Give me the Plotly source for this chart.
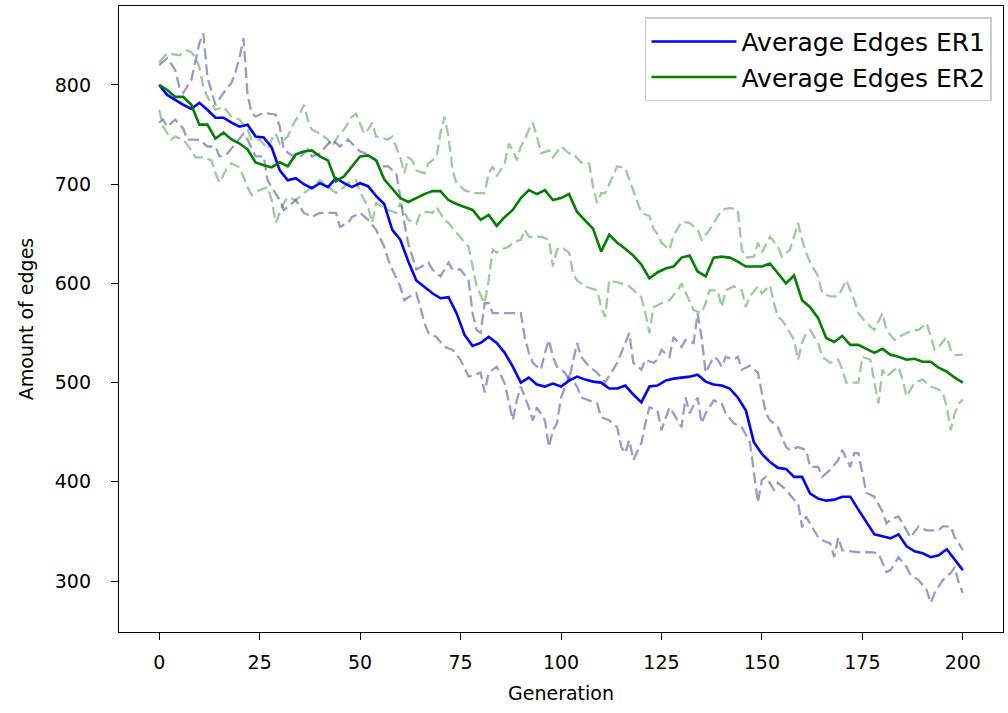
import plotly.graph_objects as go

# generaciones cada 2 para las medias
gen = list(range(0, 201, 2))

avg_er1 = [800, 790, 785, 780, 776, 782, 775, 767, 767, 762, 758, 760, 748, 747, 737, 714, 704, 706, 700, 696,
           701, 697, 706, 701, 697, 701, 698, 688, 680, 654, 644, 622, 603, 596, 590, 585, 586, 570, 548, 537,
           540, 546, 540, 530, 516, 500, 505, 498, 496, 499, 496, 502, 506, 503, 501, 500, 494, 494, 497, 488,
           480, 496, 497, 502, 504, 505, 506, 508, 501, 498, 497, 494, 485, 472, 440, 428, 420, 414, 413, 405,
           405, 388, 383, 381, 382, 385, 385, 372, 360, 347, 345, 343, 347, 335, 330, 328, 324, 326, 332, 322,
           311]

avg_er2 = [800, 795, 788, 788, 780, 760, 760, 746, 752, 745, 741, 735, 722, 719, 717, 722, 718, 730, 733, 734,
           728, 724, 703, 708, 718, 728, 729, 724, 705, 696, 686, 682, 686, 690, 693, 693, 684, 680, 677, 674,
           664, 669, 658, 667, 674, 686, 694, 690, 694, 684, 686, 690, 672, 663, 655, 632, 649, 641, 635, 628,
           619, 605, 611, 615, 617, 626, 628, 612, 607, 626, 627, 626, 622, 617, 617, 617, 620, 610, 600, 608,
           583, 576, 565, 545, 541, 547, 538, 538, 534, 530, 534, 528, 526, 523, 524, 521, 521, 515, 511, 505,
           500]

# lineas discontinuas (limites) con sus propias generaciones
er1_up_gen = [0, 2, 4, 5, 6, 8, 10, 11, 12, 14, 16, 18, 19, 20, 21, 22, 23, 24, 26, 29, 30, 31, 33, 35, 37, 38,
              40, 43, 45, 47, 50, 52, 54, 55, 57, 59, 60, 61, 62, 63, 64, 67, 68, 70, 72, 73, 75, 77, 78, 79,
              80, 81, 82, 83, 85, 87, 90, 91, 92, 93, 95, 96, 97, 98, 99, 101, 102, 104, 105, 107, 109, 111, 114,
              116, 117, 118, 120, 121, 123, 124, 125, 127, 128, 130, 131, 133, 134, 135, 136, 138, 139, 140, 141,
              143, 144, 145, 147, 149, 150, 151, 152, 154, 156, 157, 159, 161, 162, 164, 165, 167, 169, 170, 172,
              173, 174, 175, 176, 178, 180, 181, 182, 184, 186, 187, 189, 191, 194, 195, 197, 198, 199, 200]
er1_up = [820, 827, 815, 798, 792, 805, 842, 852, 808, 780, 792, 802, 813, 828, 847, 790, 772, 768, 772, 770,
          758, 735, 729, 727, 735, 728, 731, 745, 738, 745, 733, 730, 724, 718, 718, 711, 687, 661, 640, 627,
          614, 621, 614, 607, 621, 614, 614, 603, 570, 553, 550, 580, 580, 570, 570, 570, 570, 545, 530, 520,
          513, 530, 543, 526, 516, 510, 503, 540, 526, 516, 510, 500, 520, 540, 550, 520, 513, 523, 520, 523,
          533, 526, 546, 536, 543, 540, 570, 545, 510, 526, 523, 516, 526, 523, 526, 513, 517, 510, 490, 469,
          462, 455, 435, 432, 435, 432, 415, 415, 405, 412, 422, 432, 415, 429, 429, 409, 389, 385, 370, 358,
          362, 365, 351, 344, 355, 351, 351, 355, 355, 344, 338, 331]

er1_low_gen = [0, 1, 2, 4, 6, 7, 10, 12, 14, 15, 17, 19, 21, 22, 24, 26, 27, 28, 30, 31, 32, 34, 36, 38, 40, 44,
               45, 47, 48, 50, 52, 54, 56, 57, 58, 60, 61, 62, 64, 65, 66, 67, 69, 71, 73, 75, 77, 80, 81, 82,
               84, 86, 87, 88, 89, 90, 92, 93, 94, 96, 97, 98, 99, 100, 102, 104, 105, 107, 109, 110, 112, 114,
               115, 116, 117, 118, 120, 121, 122, 124, 125, 127, 128, 130, 131, 132, 134, 135, 136, 138, 140,
               141, 143, 145, 147, 148, 149, 150, 151, 153, 154, 156, 158, 159, 160, 161, 162, 164, 165, 167,
               168, 169, 170, 172, 174, 177, 179, 181, 182, 184, 186, 187, 189, 191, 192, 193, 195, 197, 198,
               199, 200]
er1_low = [762, 765, 758, 765, 756, 745, 745, 738, 738, 728, 731, 741, 751, 745, 728, 728, 704, 697, 684, 674,
           677, 684, 671, 667, 671, 671, 657, 661, 667, 671, 664, 654, 637, 624, 614, 597, 583, 586, 590, 576,
           560, 550, 546, 536, 533, 523, 506, 510, 490, 510, 516, 499, 482, 462, 482, 496, 475, 462, 475, 462,
           435, 452, 459, 485, 506, 496, 485, 482, 479, 465, 462, 455, 435, 429, 442, 422, 439, 459, 475, 472,
           452, 475, 469, 455, 485, 469, 485, 459, 469, 482, 479, 469, 459, 455, 440, 410, 379, 402, 405, 392,
           399, 392, 382, 379, 354, 365, 358, 344, 341, 338, 324, 344, 331, 330, 329, 329, 328, 309, 311, 324,
           314, 306, 301, 291, 278, 288, 301, 308, 314, 298, 288]

er2_up_gen = [0, 2, 5, 7, 8, 9, 10, 11, 12, 14, 16, 18, 20, 22, 23, 25, 27, 28, 29, 30, 32, 33, 35, 36, 37, 38,
              40, 42, 43, 45, 46, 48, 49, 51, 52, 53, 54, 57, 58, 60, 61, 62, 63, 64, 66, 67, 69, 70, 71, 72,
              73, 74, 76, 78, 81, 82, 83, 84, 86, 87, 88, 89, 90, 91, 92, 93, 94, 95, 97, 98, 100, 102, 103,
              105, 107, 108, 109, 110, 111, 113, 114, 116, 118, 120, 122, 123, 124, 125, 127, 128, 130, 132,
              134, 135, 137, 138, 140, 142, 144, 145, 146, 148, 149, 150, 152, 154, 155, 157, 158, 159, 160,
              161, 162, 164, 165, 167, 169, 171, 172, 173, 174, 176, 178, 180, 181, 183, 184, 186, 188, 189,
              191, 192, 193, 194, 196, 197, 198, 200]
er2_up = [823, 832, 830, 835, 833, 828, 818, 798, 788, 775, 778, 768, 765, 755, 745, 745, 736, 745, 751, 741,
          748, 758, 771, 780, 765, 755, 751, 745, 738, 751, 755, 768, 771, 751, 755, 762, 748, 745, 748, 727,
          711, 727, 724, 714, 711, 721, 727, 751, 768, 748, 714, 701, 694, 691, 691, 711, 718, 708, 721, 741,
          734, 724, 738, 745, 755, 762, 748, 731, 734, 727, 738, 731, 731, 722, 721, 697, 681, 691, 691, 708,
          718, 716, 694, 671, 668, 655, 650, 641, 634, 648, 662, 661, 654, 644, 654, 661, 674, 676, 674, 634,
          626, 627, 641, 631, 647, 637, 627, 634, 647, 661, 644, 631, 621, 607, 590, 587, 587, 603, 593, 583,
          570, 560, 553, 570, 553, 543, 546, 550, 553, 553, 560, 546, 533, 536, 546, 533, 528, 528]

er2_low_gen = [0, 1, 3, 4, 6, 8, 9, 11, 13, 14, 15, 17, 18, 20, 22, 23, 25, 27, 28, 29, 30, 31, 32, 34, 37, 38,
               40, 42, 44, 46, 47, 49, 50, 52, 53, 54, 57, 59, 60, 62, 64, 65, 67, 68, 69, 71, 72, 74, 76, 77,
               78, 79, 81, 82, 83, 84, 85, 87, 88, 90, 91, 92, 95, 97, 98, 99, 100, 102, 103, 104, 106, 109, 110,
               111, 112, 115, 117, 120, 121, 122, 123, 125, 127, 129, 130, 132, 133, 135, 136, 137, 139, 140,
               141, 143, 145, 146, 147, 149, 150, 152, 153, 154, 155, 157, 158, 159, 160, 161, 162, 164, 165,
               167, 169, 170, 171, 173, 174, 175, 177, 178, 179, 180, 181, 183, 184, 185, 186, 188, 190, 192,
               194, 195, 196, 197, 198, 199, 200]
er2_low = [775, 758, 745, 748, 745, 734, 727, 727, 724, 711, 702, 717, 721, 717, 697, 689, 694, 697, 684, 661,
           671, 681, 687, 684, 694, 697, 704, 697, 691, 697, 701, 704, 692, 677, 661, 681, 674, 671, 681, 664,
           660, 671, 672, 671, 677, 664, 661, 651, 641, 637, 617, 597, 580, 603, 634, 631, 634, 637, 641, 644,
           654, 647, 647, 644, 617, 634, 637, 631, 610, 603, 597, 593, 576, 566, 603, 600, 597, 586, 570, 550,
           576, 580, 583, 593, 600, 583, 573, 570, 580, 593, 593, 576, 593, 597, 593, 576, 587, 597, 590, 598,
           580, 566, 563, 550, 543, 523, 540, 550, 553, 540, 526, 520, 523, 513, 500, 500, 500, 526, 523, 500,
           479, 513, 506, 513, 516, 503, 486, 500, 503, 496, 493, 490, 476, 452, 469, 479, 483]

fig = go.Figure()

# primero las discontinuas, luego las medias encima
dash_style = "11px,5px"
fig.add_trace(go.Scatter(x=er1_up_gen, y=er1_up, mode="lines", showlegend=False,
                         line=dict(color="rgba(0,0,128,0.4)", width=2.3, dash=dash_style)))
fig.add_trace(go.Scatter(x=er1_low_gen, y=er1_low, mode="lines", showlegend=False,
                         line=dict(color="rgba(0,0,128,0.4)", width=2.3, dash=dash_style)))
fig.add_trace(go.Scatter(x=er2_up_gen, y=er2_up, mode="lines", showlegend=False,
                         line=dict(color="rgba(0,128,0,0.4)", width=2.3, dash=dash_style)))
fig.add_trace(go.Scatter(x=er2_low_gen, y=er2_low, mode="lines", showlegend=False,
                         line=dict(color="rgba(0,128,0,0.4)", width=2.3, dash=dash_style)))

fig.add_trace(go.Scatter(x=gen, y=avg_er1, mode="lines", name="Average Edges ER1",
                         line=dict(color="#0000ff", width=2.6)))
fig.add_trace(go.Scatter(x=gen, y=avg_er2, mode="lines", name="Average Edges ER2",
                         line=dict(color="#008000", width=2.6)))

axis_common = dict(showline=True, linecolor="black", linewidth=1.3, mirror=True,
                   ticks="outside", ticklen=7, tickwidth=1.3, tickcolor="black",
                   showgrid=False, zeroline=False,
                   tickfont=dict(size=19, color="black"))

fig.update_xaxes(range=[-10, 210], tickvals=[0, 25, 50, 75, 100, 125, 150, 175, 200],
                 ticklabelstandoff=6,
                 title=dict(text="Generation", font=dict(size=19, color="black"), standoff=14),
                 **axis_common)
fig.update_yaxes(range=[248.6, 879.6], tickvals=[300, 400, 500, 600, 700, 800],
                 ticklabelstandoff=16,
                 title=dict(text="Amount of edges", font=dict(size=19, color="black"), standoff=16),
                 **axis_common)

fig.update_layout(
    width=1008,
    height=713,
    margin=dict(l=119, r=5, t=6, b=81),
    plot_bgcolor="white",
    paper_bgcolor="white",
    font=dict(family="DejaVu Sans", size=19, color="black"),
    legend=dict(x=0.9875, y=0.982, xanchor="right", yanchor="top",
                bgcolor="rgba(255,255,255,0.8)", bordercolor="#cccccc", borderwidth=1.5,
                font=dict(size=25), itemwidth=85),
)

# sin el margen por defecto del body
fig.write_html("out.html", config={"displayModeBar": False},
               post_script="document.body.style.margin='0';")
